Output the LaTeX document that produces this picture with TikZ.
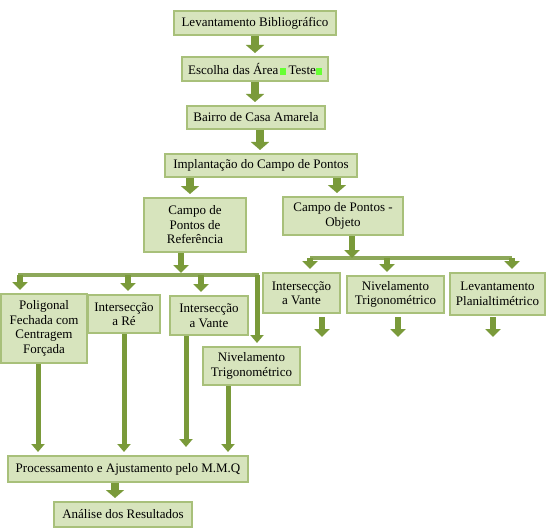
\documentclass[tikz,border=0pt]{standalone}
\usepackage{fontspec}
\setmainfont{Liberation Serif}
\usetikzlibrary{arrows.meta}
\definecolor{boxfill}{HTML}{D7E4BD}
\definecolor{boxline}{HTML}{A8C07A}
\definecolor{arr}{HTML}{7A9A3A}
\definecolor{barc}{HTML}{8DA85A}
\definecolor{hl}{HTML}{66FF33}
\begin{document}
\begin{tikzpicture}[x=1pt,y=-1pt,
  box/.style={draw=boxline, line width=2pt, fill=boxfill, align=center, inner sep=2pt,
              font=\fontsize{13}{14.5}\selectfont},
  bigarrow/.style={draw=arr, line width=8pt, shorten >=3pt, -{Triangle[width=18pt,length=8pt]}},
  midarrow/.style={draw=arr, line width=6pt, shorten >=3pt, -{Triangle[width=15pt,length=8pt]}},
  slimarrow/.style={draw=arr, line width=5pt, shorten >=3pt, -{Triangle[width=13pt,length=8pt]}},
  bar/.style={draw=barc, line width=4pt}]
\useasboundingbox (0,0) rectangle (549,532);

% boxes
\node[box, minimum width=162pt, minimum height=24pt] (b1) at (255,23) {Levantamento Bibliográfico};
\node[box, minimum width=146pt, minimum height=24pt] (b2) at (255,69) {Escolha das Área\,\textcolor{hl}{\rule{6pt}{7pt}}\,Teste\textcolor{hl}{\rule{6pt}{7pt}}};
\node[box, minimum width=138pt, minimum height=23pt] (b3) at (256,117.5) {Bairro de Casa Amarela};
\node[box, minimum width=192pt, minimum height=23pt] (b4) at (261,165.5) {Implantação do Campo de Pontos};
\node[box, minimum width=102pt, minimum height=54pt] (b5) at (195,225) {Campo de\\Pontos de\\Referência};
\node[box, minimum width=120pt, minimum height=38pt] (b6) at (343,216) {Campo de Pontos -\\Objeto};
\node[box, minimum width=77pt, minimum height=40pt] (b7) at (301.5,293) {Intersecção\\a Vante};
\node[box, minimum width=97pt, minimum height=37pt] (b8) at (395.5,294.5) {Nivelamento\\Trigonométrico};
\node[box, minimum width=95pt, minimum height=42pt] (b9) at (497.5,294) {Levantamento\\Planialtimétrico};
\node[box, minimum width=86pt, minimum height=69pt] (b10) at (44,328.5) {Poligonal\\Fechada com\\Centragem\\Forçada};
\node[box, minimum width=72pt, minimum height=38pt] (b11) at (124,314) {Intersecção\\a Ré};
\node[box, minimum width=78pt, minimum height=39pt] (b12) at (209,315.5) {Intersecção\\a Vante};
\node[box, minimum width=97pt, minimum height=38pt] (b13) at (251.5,366) {Nivelamento\\Trigonométrico};
\node[box, minimum width=240pt, minimum height=26pt] (b14) at (128,469) {Processamento e Ajustamento pelo M.M.Q};
\node[box, minimum width=138pt, minimum height=25pt] (b15) at (123,514.5) {Análise dos Resultados};

% x positions of connectors
\coordinate (x12) at (255,0);
\coordinate (x34) at (260,0);
\coordinate (x45) at (190,0);
\coordinate (x46) at (337,0);
\coordinate (x6b) at (352,0);
\coordinate (rb1) at (310,258);
\coordinate (rb2) at (387,258);
\coordinate (rb3) at (512,258);
\coordinate (x5b) at (181,0);
\coordinate (lb1) at (20,275);
\coordinate (lb2) at (128,275);
\coordinate (lb3) at (201,275);
\coordinate (lb4) at (257,275);
\coordinate (d1s) at (322,317);
\coordinate (d1e) at (322,337);
\coordinate (d2s) at (398,317);
\coordinate (d2e) at (398,337);
\coordinate (d3s) at (493,317);
\coordinate (d3e) at (493,337);
\coordinate (v1) at (38,0);
\coordinate (v2) at (124,0);
\coordinate (v3) at (186,0);
\coordinate (v4) at (228,0);
\coordinate (x1415) at (115,0);

% top chain
\draw[bigarrow] (x12 |- b1.south) -- (x12 |- b2.north);
\draw[bigarrow] (x12 |- b2.south) -- (x12 |- b3.north);
\draw[bigarrow] (x34 |- b3.south) -- (x34 |- b4.north);
\draw[bigarrow] (x45 |- b4.south) -- (x45 |- b5.north);
\draw[bigarrow] (x46 |- b4.south) -- (x46 |- b6.north);

% right branch
\draw[bar] (rb1) -- (rb3);
\draw[midarrow, shorten >=0pt] (x6b |- b6.south) -- (x6b |- rb1);
\draw[midarrow] (rb1) -- (rb1 |- b7.north);
\draw[midarrow] (rb2) -- (rb2 |- b8.north);
\draw[midarrow] (rb3) -- (rb3 |- b9.north);
\draw[midarrow, shorten >=0pt] (d1s) -- (d1e);
\draw[midarrow, shorten >=0pt] (d2s) -- (d2e);
\draw[midarrow, shorten >=0pt] (d3s) -- (d3e);

% left branch
\draw[bar] ([xshift=-2pt]lb1) -- ([xshift=2pt]lb4);
\draw[midarrow, shorten >=2pt] (x5b |- b5.south) -- (x5b |- lb1);
\draw[midarrow] (lb1) -- (lb1 |- b10.north);
\draw[midarrow] (lb2) -- (lb2 |- b11.north);
\draw[midarrow] (lb3) -- (lb3 |- b12.north);
\draw[slimarrow] (lb4) -- (lb4 |- b13.north);

% down to processing
\draw[slimarrow] (v1 |- b10.south) -- (v1 |- b14.north);
\draw[slimarrow] (v2 |- b11.south) -- (v2 |- b14.north);
\draw[slimarrow, shorten >=8pt] (v3 |- b12.south) -- (v3 |- b14.north);
\draw[slimarrow] (v4 |- b13.south) -- (v4 |- b14.north);

\draw[bigarrow] (x1415 |- b14.south) -- (x1415 |- b15.north);
\end{tikzpicture}
\end{document}
